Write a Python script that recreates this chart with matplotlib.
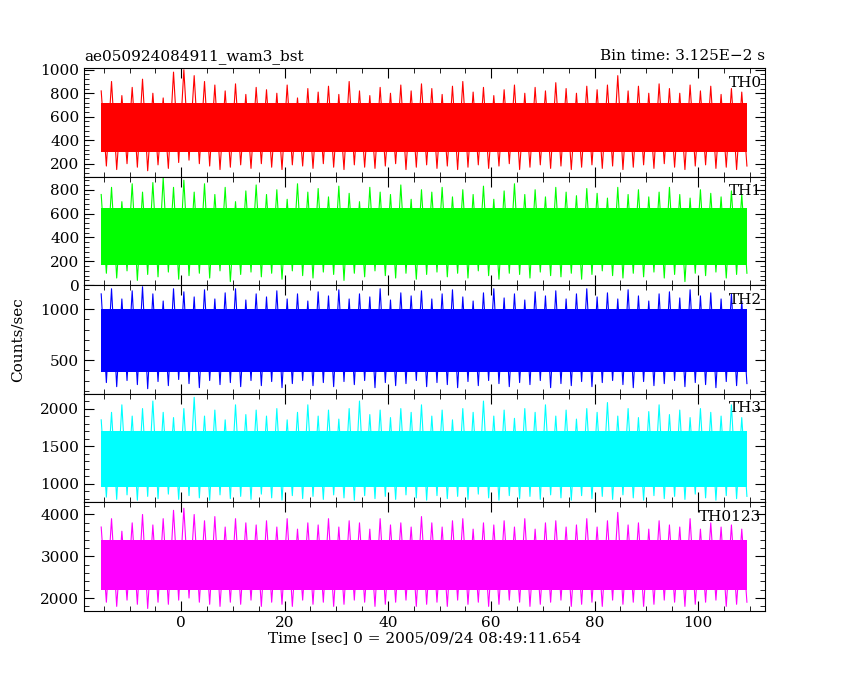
import numpy as np
import matplotlib.pyplot as plt
from matplotlib.ticker import AutoMinorLocator

plt.rc('font', family='DejaVu Serif', size=11)

# time grid (s), one peak/trough pair read every 2 s
t = np.arange(-15.5, 110, 2.0)

th0_hi = [820, 900, 780, 850, 920, 800, 760, 980, 1000, 950, 900, 870, 820, 880, 790, 850,
          830, 800, 870, 760, 840, 810, 860, 790, 900, 820, 780, 850, 800, 870, 820, 880,
          840, 790, 860, 900, 810, 850, 780, 830, 870, 800, 850, 820, 890, 840, 800, 860,
          830, 870, 950, 820, 860, 800, 880, 840, 800, 870, 820, 860, 790, 840, 810]
th0_lo = [180, 150, 200, 170, 140, 190, 160, 210, 230, 200, 180, 150, 170, 190, 160, 200,
          170, 150, 190, 180, 160, 200, 170, 150, 190, 170, 160, 180, 200, 150, 170, 190,
          160, 180, 150, 170, 190, 160, 180, 200, 150, 170, 190, 160, 180, 150, 170, 190,
          160, 180, 150, 170, 190, 160, 200, 170, 150, 180, 190, 160, 170, 150, 180]
th1_hi = [760, 820, 700, 850, 780, 860, 900, 820, 880, 780, 850, 760, 820, 700, 790, 840,
          760, 800, 720, 850, 780, 810, 740, 830, 770, 700, 820, 780, 760, 840, 720, 800,
          780, 820, 740, 800, 760, 830, 720, 790, 850, 760, 800, 740, 820, 780, 750, 810,
          770, 730, 820, 760, 800, 740, 780, 820, 760, 730, 800, 770, 740, 790, 760]
th1_lo = [100, 60, 120, 40, 90, 70, 110, 50, 80, 100, 60, 120, 30, 90, 110, 70,
          100, 50, 120, 80, 60, 110, 90, 40, 100, 70, 120, 80, 60, 100, 50, 90,
          110, 70, 100, 60, 120, 80, 50, 100, 90, 60, 110, 80, 70, 100, 50, 90,
          120, 80, 60, 100, 70, 110, 60, 90, 30, 100, 80, 110, 60, 90, 100]
th2_hi = [1150, 1200, 1100, 1180, 1220, 1150, 1080, 1200, 1170, 1120, 1190, 1100, 1160, 1200, 1090, 1150,
          1120, 1180, 1100, 1150, 1080, 1170, 1130, 1190, 1100, 1150, 1120, 1200, 1090, 1160, 1130, 1180,
          1100, 1150, 1190, 1120, 1080, 1160, 1200, 1110, 1150, 1090, 1170, 1130, 1180, 1100, 1150, 1200,
          1120, 1160, 1100, 1190, 1130, 1080, 1150, 1170, 1110, 1190, 1130, 1160, 1100, 1150, 1080]
th2_lo = [280, 240, 300, 260, 220, 290, 250, 310, 270, 230, 300, 260, 280, 240, 300, 250,
          290, 230, 270, 300, 250, 280, 240, 290, 260, 300, 230, 280, 250, 270, 300, 240,
          280, 260, 230, 290, 250, 300, 270, 240, 280, 260, 300, 230, 270, 250, 290, 240,
          280, 300, 260, 230, 290, 250, 270, 300, 240, 280, 260, 230, 290, 250, 270]
th3_hi = [1850, 1950, 2050, 1900, 2000, 2100, 1950, 1880, 2000, 2150, 1900, 1980, 1850, 2050, 1920, 1980,
          1900, 2000, 1850, 1950, 2050, 1900, 1980, 1860, 2000, 2100, 1920, 1980, 1880, 2000, 1950, 2050,
          1900, 1980, 1850, 2000, 1950, 2100, 1900, 1980, 1870, 2000, 1950, 2050, 1900, 1980, 1860, 2000,
          1950, 2080, 1900, 2000, 1880, 1960, 2050, 1920, 1980, 1880, 2000, 1950, 1900, 2050, 1880]
th3_lo = [820, 790, 850, 780, 830, 800, 860, 790, 840, 810, 780, 850, 800, 830, 790, 860,
          810, 780, 840, 800, 830, 790, 850, 810, 780, 840, 800, 830, 790, 850, 810, 780,
          840, 800, 830, 790, 860, 810, 780, 840, 800, 830, 790, 850, 810, 780, 840, 800,
          830, 790, 850, 810, 780, 840, 800, 830, 790, 860, 810, 780, 840, 800, 830]
th0123_hi = [3700, 3900, 3600, 3800, 4000, 3750, 3900, 4100, 4150, 4000, 3850, 3950, 3700, 3900, 3800, 3750,
             3850, 3700, 3900, 3650, 3800, 3750, 3900, 3700, 3850, 3800, 3650, 3900, 3750, 3800, 3700, 3950,
             3800, 3700, 3850, 3900, 3650, 3800, 3750, 3850, 3700, 3900, 3650, 3800, 3850, 3700, 3750, 3900,
             3700, 3850, 4050, 3750, 3800, 3650, 3850, 3750, 3700, 3900, 3650, 3800, 3700, 3750, 3650]
th0123_lo = [1900, 1800, 1950, 1850, 1750, 1900, 1850, 1950, 2000, 1900, 1850, 1800, 1900, 1850, 1950, 1800,
             1900, 1850, 1800, 1950, 1850, 1900, 1800, 1850, 1950, 1900, 1800, 1850, 1900, 1950, 1800, 1850,
             1900, 1800, 1950, 1850, 1900, 1800, 1850, 1950, 1900, 1800, 1850, 1900, 1950, 1800, 1850, 1900,
             1800, 1950, 1850, 1900, 1800, 1850, 1950, 1900, 1800, 1850, 1900, 1950, 1800, 1850, 1900]

canales = ['TH0', 'TH1', 'TH2', 'TH3', 'TH0123']
altos = [th0_hi, th1_hi, th2_hi, th3_hi, th0123_hi]
bajos = [th0_lo, th1_lo, th2_lo, th3_lo, th0123_lo]
nucleos = [(300, 720), (170, 650), (380, 1000), (950, 1700), (2200, 3400)]
colores = ['#ff0000', '#00ff00', '#0000ff', '#00ffff', '#ff00ff']
limites_y = [(90, 1015), (0, 910), (170, 1235), (750, 2197), (1690, 4290)]
ticks_y = [[200, 400, 600, 800, 1000], [0, 200, 400, 600, 800], [500, 1000],
           [1000, 1500, 2000], [2000, 3000, 4000]]

fig, axs = plt.subplots(5, 1, figsize=(8.5, 6.8), dpi=100, sharex=True)
fig.subplots_adjust(left=0.099, right=0.9, top=0.9, bottom=0.1015, hspace=0)

for ax, nom, hi, lo, nu, c, yl, yt in zip(axs, canales, altos, bajos, nucleos, colores, limites_y, ticks_y):
    # zigzag entre picos y valles, mas la banda central
    x = np.column_stack([t, t + 1.0]).ravel()
    y = np.column_stack([hi, lo]).ravel()
    ax.fill_between([t[0], t[-1] + 1.0], nu[0], nu[1], color=c, lw=0)
    ax.plot(x, y, color=c, lw=0.8)
    ax.set_ylim(yl)
    ax.set_yticks(yt)
    ax.set_xlim(-18.8, 113)
    ax.text(0.995, 0.93, nom, transform=ax.transAxes, ha='right', va='top', fontsize=11)
    ax.xaxis.set_minor_locator(AutoMinorLocator(4))
    ax.yaxis.set_minor_locator(AutoMinorLocator(5))
    ax.tick_params(which='both', direction='in', top=True, right=True)
    ax.tick_params(which='major', length=7)
    ax.tick_params(which='minor', length=3.5)

axs[-1].set_xticks([0, 20, 40, 60, 80, 100])
axs[-1].set_xlabel('Time [sec] 0 = 2005/09/24 08:49:11.654', labelpad=1)
axs[0].set_title('ae050924084911_wam3_bst', loc='left', fontsize=11, pad=6)
axs[0].set_title('Bin time: 3.125E\u22122 s', loc='right', fontsize=11, pad=6)
fig.text(0.012, 0.5, 'Counts/sec', rotation=90, va='center', ha='left', fontsize=11)

plt.savefig('out.png')
